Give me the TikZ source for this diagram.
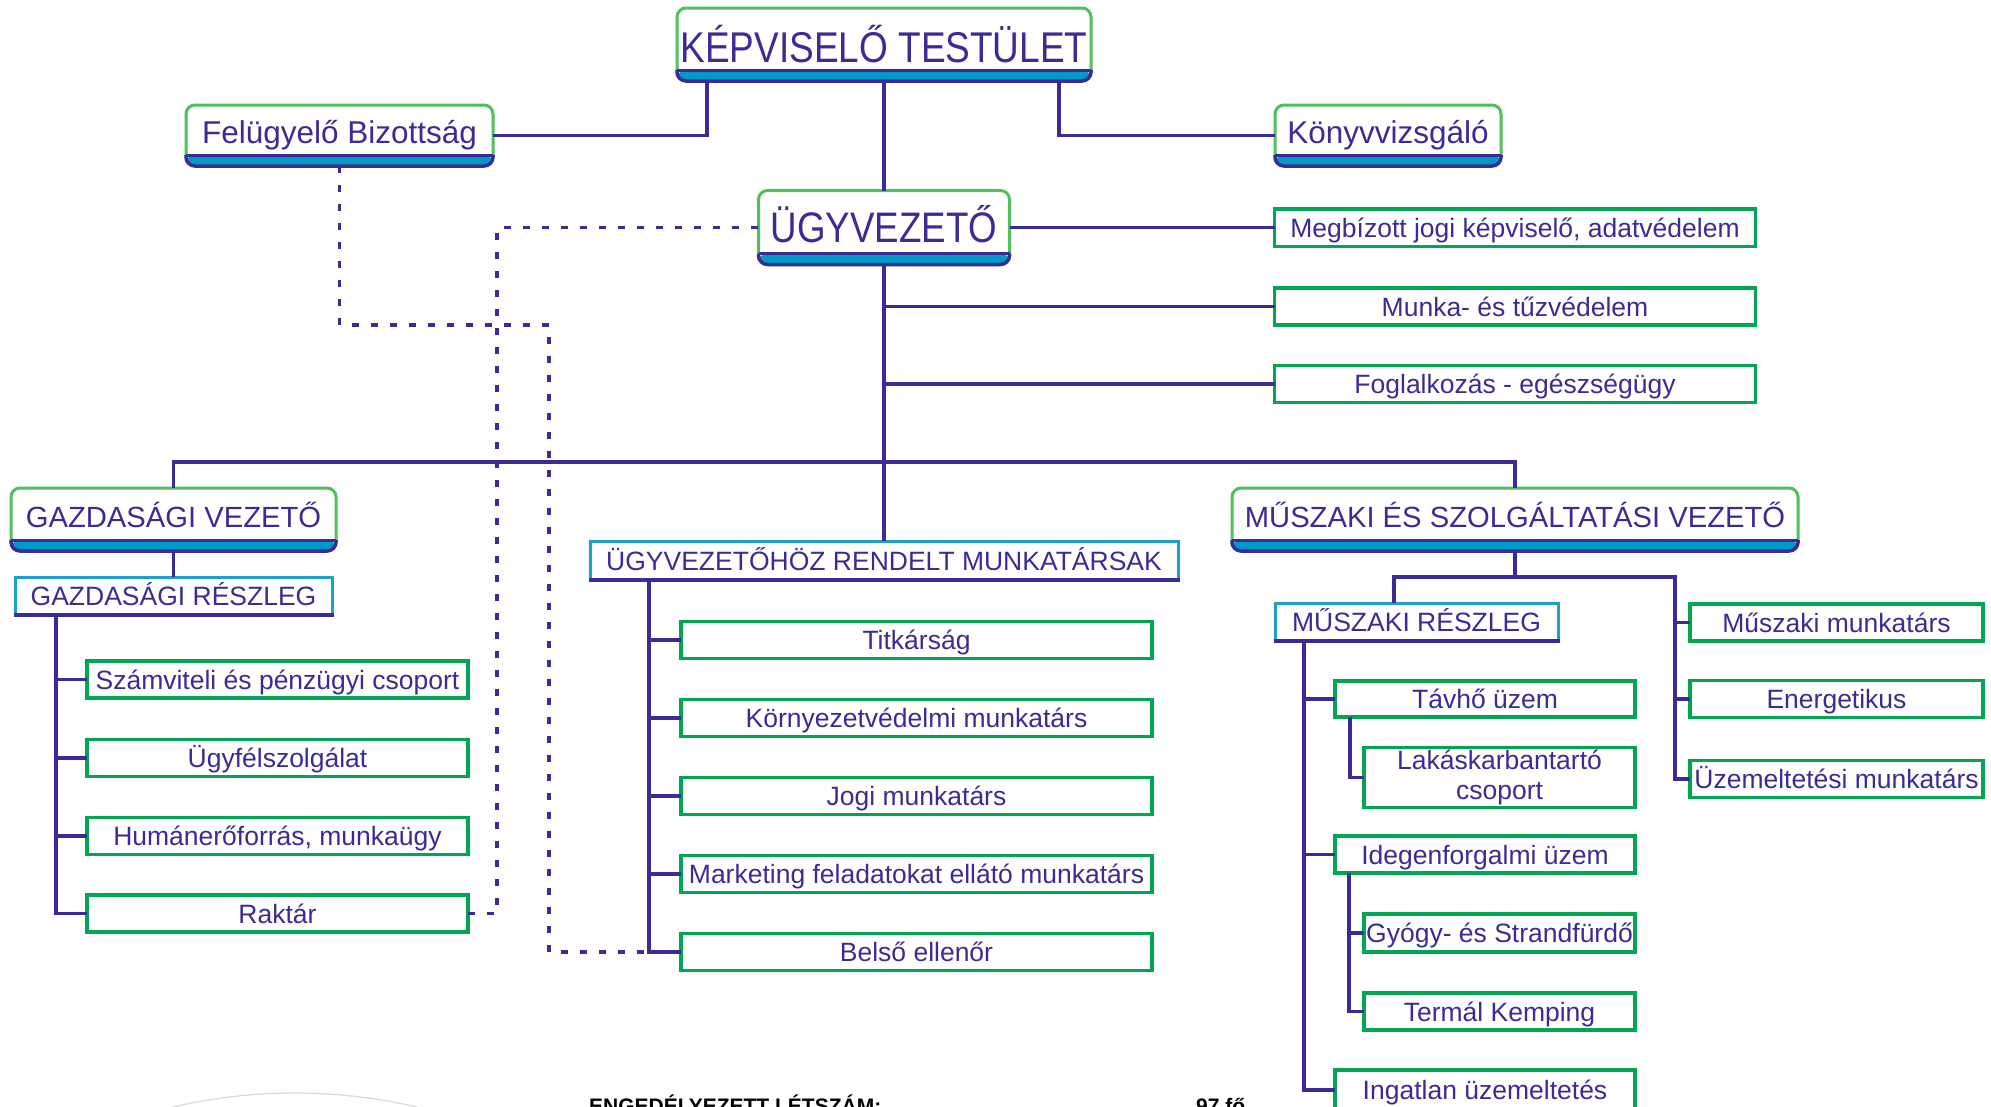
\documentclass[tikz,border=0pt]{standalone}
\usepackage{fontspec}
\setmainfont{Liberation Sans}
\newfontfamily\condfont{Liberation Sans}[FakeStretch=0.86]
\definecolor{navy}{RGB}{58,44,150}
\definecolor{hgreen}{RGB}{80,192,92}
\definecolor{rgreen}{RGB}{0,166,81}
\definecolor{bandcyan}{RGB}{0,153,198}
\definecolor{rcyan}{RGB}{28,160,204}
\definecolor{arcgray}{RGB}{218,218,218}
\newcommand\fTop{\condfont\fontsize{43}{50}\selectfont}
\newcommand\fUgy{\condfont\fontsize{42.7}{50}\selectfont}
\newcommand\fHead{\fontsize{31.5}{38}\selectfont}
\newcommand\fMid{\fontsize{29.2}{34}\selectfont}
\newcommand\fNorm{\fontsize{26.5}{30}\selectfont}
\newcommand\fFoot{\fontsize{21}{25}\selectfont\bfseries}
\tikzset{
  conn/.style={draw=navy, line width=3.5pt},
  dots/.style={draw=navy, line width=3.5pt, dash pattern=on 7pt off 12pt},
  wh/.style 2 args={minimum width=#1pt, minimum height=#2pt},
  hbox/.style={draw=hgreen, line width=3pt, rounded corners=9pt, fill=white,
    inner sep=0pt, outer sep=0pt, text=navy,
    path picture={\fill[bandcyan] ([yshift=11pt]path picture bounding box.south west)
      rectangle (path picture bounding box.south east);}},
  rbox/.style={draw=rgreen, line width=3.5pt, fill=white, inner sep=0pt,
    outer sep=0pt, text=navy, font=\fNorm, align=center},
  rb/.style={rbox, text height=19pt, text depth=0pt},
  cbox/.style={draw=rcyan, line width=3pt, fill=white, inner sep=0pt,
    outer sep=0pt, text=navy, font=\fNorm, text height=19pt, text depth=0pt},
}
\begin{document}
\begin{tikzpicture}[x=1pt,y=-1pt]
\useasboundingbox (0,0) rectangle (1991,1106);
\clip (0,0) rectangle (1991,1106);
\fill[white] (0,0) rectangle (1991,1106);
\draw[arcgray, line width=1.2pt] (295,1626) circle (533pt);

% heading boxes
\node[hbox, wh={414}{73}, font=\fTop, text height=36.8pt, text depth=0pt] (kt) at (884,44.5) {KÉPVISELŐ TESTÜLET};
\node[hbox, wh={307}{61}, font=\fHead, text height=22.5pt, text depth=6pt] (fb) at (339.5,135.5) {Felügyelő Bizottság};
\node[hbox, wh={226}{61}, font=\fHead, text height=22.5pt, text depth=6pt] (kv) at (1388,135.5) {Könyvvizsgáló};
\node[hbox, wh={251}{74}, font=\fUgy, text height=30.6pt, text depth=0pt] (ugy) at (884,227.5) {ÜGYVEZETŐ};
\node[hbox, wh={325}{63}, font=\fMid, text height=20.9pt, text depth=5pt] (gv) at (173.5,519.5) {GAZDASÁGI VEZETŐ};
\node[hbox, wh={566}{63}, font=\fMid, text height=20.9pt, text depth=5pt] (msv) at (1515,519.5) {MŰSZAKI ÉS SZOLGÁLTATÁSI VEZETŐ};
\foreach \n in {kt,fb,kv,ugy,gv,msv}{
  \draw[navy, line width=3.5pt, rounded corners=9pt]
    ([yshift=11pt]\n.south west) -- (\n.south west) -- (\n.south east) -- ([yshift=11pt]\n.south east);
  \draw[navy, line width=3pt] ([yshift=11pt]\n.south west) -- ([yshift=11pt]\n.south east);
}

% right staff boxes
\node[rb, wh={481}{37.5}] (mb) at (1515,227.5) {Megbízott jogi képviselő, adatvédelem};
\node[rb, wh={481}{37}] (mv) at (1515,306.5) {Munka- és tűzvédelem};
\node[rb, wh={481}{37}] (fe) at (1515,384) {Foglalkozás - egészségügy};

% section boxes
\node[cbox, wh={317}{38}] (gr) at (173.5,596) {GAZDASÁGI RÉSZLEG};
\node[cbox, wh={588}{39}] (ur) at (884,560.5) {ÜGYVEZETŐHÖZ RENDELT MUNKATÁRSAK};
\node[cbox, wh={283}{38}] (mr) at (1416.5,622) {MŰSZAKI RÉSZLEG};
\foreach \n in {gr,ur,mr}{
  \draw[navy, line width=4.5pt] ([xshift=-1.5pt]\n.south west) -- ([xshift=1.5pt]\n.south east);
}

% left column
\node[rb, wh={381}{37}] (szam) at (277.5,679.5) {Számviteli és pénzügyi csoport};
\node[rb, wh={381}{37}] (ugyf) at (277.5,758) {Ügyfélszolgálat};
\node[rb, wh={381}{37}] (hum) at (277.5,836) {Humánerőforrás, munkaügy};
\node[rb, wh={381}{37}] (rak) at (277.5,913.5) {Raktár};

% middle column
\node[rb, wh={471}{37}] (tit) at (916.5,640) {Titkárság};
\node[rb, wh={471}{37}] (kor) at (916.5,718) {Környezetvédelmi munkatárs};
\node[rb, wh={471}{37}] (jog) at (916.5,796) {Jogi munkatárs};
\node[rb, wh={471}{37}] (mar) at (916.5,874) {Marketing feladatokat ellátó munkatárs};
\node[rb, wh={471}{37}] (bel) at (916.5,952) {Belső ellenőr};

% technical column
\node[rb, wh={300}{36}] (tav) at (1485,699) {Távhő üzem};
\node[rbox, wh={271}{60}] (lak) at (1499.5,777.5) {Lakáskarbantartó\\csoport};
\node[rb, wh={300}{37}] (ide) at (1485,854.5) {Idegenforgalmi üzem};
\node[rb, wh={271}{38}] (gyo) at (1499.5,933) {Gyógy- és Strandfürdő};
\node[rb, wh={271}{37}] (ter) at (1499.5,1011.5) {Termál Kemping};
\node[rb, wh={300}{40}] (ing) at (1485,1090) {Ingatlan üzemeltetés};

\node[rb, wh={293}{37}] (msm) at (1836.5,622.5) {Műszaki munkatárs};
\node[rb, wh={293}{37}] (ene) at (1836.5,699) {Energetikus};
\node[rb, wh={293}{37}] (uzm) at (1836.5,779) {Üzemeltetési munkatárs};

% footer text
\node[anchor=base west, inner sep=0pt, font=\fFoot] (lsz) at (589,1113) {ENGEDÉLYEZETT LÉTSZÁM:};
\node[anchor=base west, inner sep=0pt, font=\fFoot] (fo) at (1196,1113) {97 fő};

% solid connectors
\draw[conn] (kt.south -| 707,0) |- (fb.east);
\draw[conn] (kt.south -| 1059,0) |- (kv.west);
\draw[conn] (kt.south) -- (ugy.north);
\draw[conn] (ugy.east) -- (mb.west);
\draw[conn] (ugy.south) -- (ur.north);
\draw[conn] (ugy.south |- mv.west) -- (mv.west);
\draw[conn] (ugy.south |- fe.west) -- (fe.west);
\draw[conn] (gv.north) |- (msv.north |- 0,462) -- (msv.north);
\draw[conn] (gv.south) -- (gr.north);

\draw[conn] (gr.south -| 56,0) |- (rak.west);
\foreach \n in {szam,ugyf,hum}{\draw[conn] (\n.west -| 56,0) -- (\n.west);}

\draw[conn] (ur.south -| 649,0) |- (bel.west);
\foreach \n in {tit,kor,jog,mar}{\draw[conn] (\n.west -| 649,0) -- (\n.west);}

\coordinate (mj) at (msv.south |- 0,577);
\draw[conn] (msv.south) -- (mj);
\draw[conn] (mr.north -| 1394,0) |- (1675,577) |- (uzm.west);
\foreach \n in {msm,ene}{\draw[conn] (\n.west -| 1675,0) -- (\n.west);}

\draw[conn] (mr.south -| 1304,0) |- (ing.west);
\foreach \n in {tav,ide}{\draw[conn] (\n.west -| 1304,0) -- (\n.west);}
\draw[conn] (tav.south -| 1350,0) |- (lak.west);
\draw[conn] (ide.south -| 1349,0) |- (ter.west);
\draw[conn] (gyo.west -| 1349,0) -- (gyo.west);

% dotted connectors
\draw[dots] (rak.east) -- (rak.east -| 497,0) |- (ugy.west);
\draw[dots] (fb.south) |- (549,325) |- (bel.west -| 649,0);
\end{tikzpicture}
\end{document}
